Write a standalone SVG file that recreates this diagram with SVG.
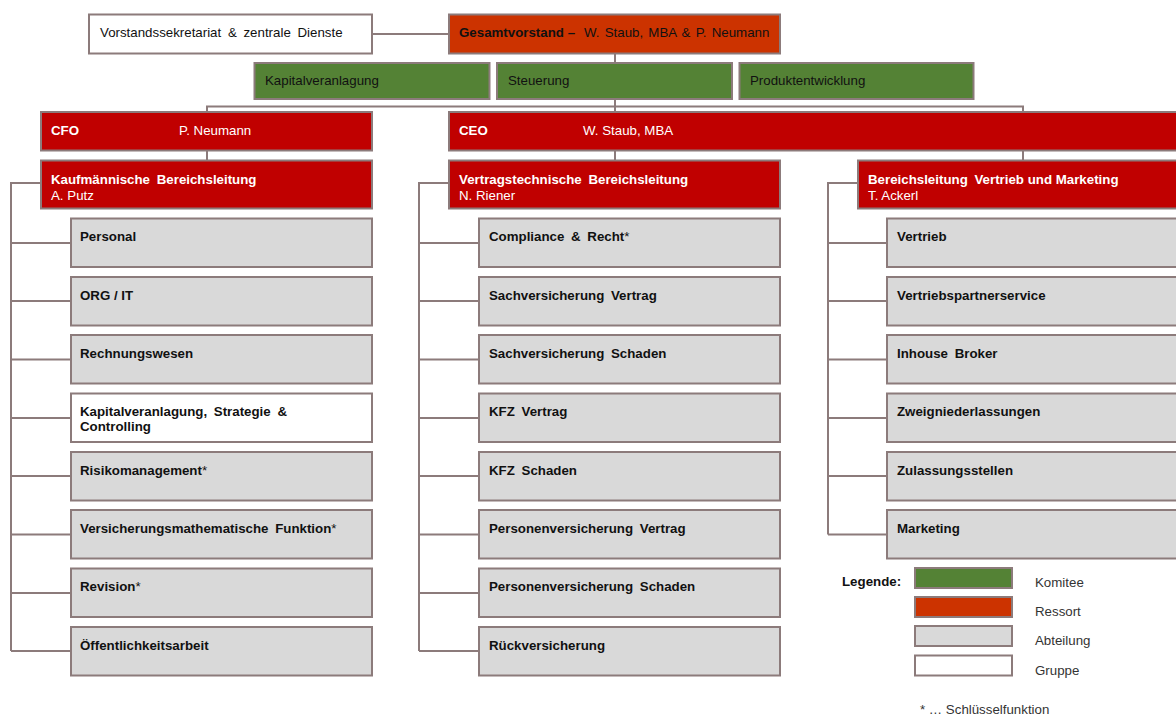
<svg xmlns="http://www.w3.org/2000/svg" width="1176" height="716" viewBox="0 0 1176 716">
<style>
text{font-family:"Liberation Sans",Arial,sans-serif;font-size:13.3px}
.b{font-weight:bold;word-spacing:3px}
.ws{word-spacing:3px}
.n0{word-spacing:0}
.box{stroke:#8c7b7b;stroke-width:2}
.ressort{fill:#cc3300}
.red{fill:#c00000}
.green{fill:#548235}
.gray{fill:#d9d9d9}
.white{fill:#ffffff}
.tw{fill:#ffffff}
.tk{fill:#111111}
.tl{fill:#333333}
.conn{fill:none;stroke:#8c7b7b;stroke-width:2}
</style>
<rect width="1176" height="716" fill="#ffffff"/>
<g id="connectors" class="conn">
<path d="M372,34H449"/>
<path d="M615,54V106.5"/>
<path d="M207,112V106.5H1023V112"/>
<path d="M615,106.5V112"/>
<path d="M207,151V160"/>
<path d="M615,151V160"/>
<path d="M1023,151V160"/>
<path d="M40,183H11V651"/>
<path d="M11,243H71M11,301H71M11,359.5H71M11,418H71M11,476H71M11,534.5H71M11,593H71M11,651H71"/>
<path d="M448,183H419V651"/>
<path d="M419,243H479M419,301H479M419,359.5H479M419,418H479M419,476H479M419,534.5H479M419,593H479M419,651H479"/>
<path d="M857,183H828V534.5"/>
<path d="M828,243H887M828,301H887M828,359.5H887M828,418H887M828,476H887M828,534.5H887"/>
</g>
<g id="vorstandssekretariat"><rect class="box white" x="89" y="14.5" width="283" height="39"/><text class="tk ws" x="100" y="37">Vorstandssekretariat &amp; zentrale Dienste</text></g>
<g id="gesamtvorstand"><rect class="box ressort" x="449" y="14.5" width="331" height="39"/><text class="tk" x="459" y="37"><tspan class="b n0">Gesamtvorstand –</tspan><tspan x="584" style="word-spacing:1.5px">W. Staub, MBA &amp; P. Neumann</tspan></text></g>
<g id="kapitalveranlagung-komitee"><rect class="box green" x="254.5" y="63" width="235" height="36"/><text class="tk" x="265" y="85">Kapitalveranlagung</text></g>
<g id="steuerung"><rect class="box green" x="497" y="63" width="235" height="36"/><text class="tk" x="508" y="85">Steuerung</text></g>
<g id="produktentwicklung"><rect class="box green" x="739.5" y="63" width="234" height="36"/><text class="tk" x="750" y="85">Produktentwicklung</text></g>
<g id="cfo"><rect class="box red" x="41" y="112" width="331" height="38.5"/><text class="tw b" x="51" y="135">CFO</text><text class="tw" x="179" y="135">P. Neumann</text></g>
<g id="ceo"><rect class="box red" x="449" y="112" width="740" height="38.5"/><text class="tw b" x="459" y="135">CEO</text><text class="tw" x="583" y="135">W. Staub, MBA</text></g>
<g id="kaufmaennische-bereichsleitung"><rect class="box red" x="41" y="160.5" width="331" height="48"/><text class="tw b" x="51" y="183.5">Kaufmännische Bereichsleitung</text><text class="tw" x="51" y="200">A. Putz</text></g>
<g id="vertragstechnische-bereichsleitung"><rect class="box red" x="449" y="160.5" width="331" height="48"/><text class="tw b" x="459" y="183.5">Vertragstechnische Bereichsleitung</text><text class="tw" x="459" y="200">N. Riener</text></g>
<g id="bereichsleitung-vertrieb-marketing"><rect class="box red" x="858" y="160.5" width="331" height="48"/><text class="tw b n0" x="868" y="183.5">Bereichsleitung <tspan dx="3">Vertrieb und Marketing</tspan></text><text class="tw" x="868" y="200">T. Ackerl</text></g>
<g id="personal"><rect class="box gray" x="71" y="218.5" width="301" height="48.5"/><text class="tk b" x="80" y="241">Personal</text></g>
<g id="org-it"><rect class="box gray" x="71" y="277" width="301" height="48.5"/><text class="tk b n0" x="80" y="299.5">ORG / IT</text></g>
<g id="rechnungswesen"><rect class="box gray" x="71" y="335" width="301" height="48.5"/><text class="tk b" x="80" y="357.5">Rechnungswesen</text></g>
<g id="kapitalveranlagung-strategie-controlling"><rect class="box white" x="71" y="393.5" width="301" height="48.5"/><text class="tk b" x="80" y="415.5">Kapitalveranlagung, Strategie &amp;</text><text class="tk b" x="80" y="431">Controlling</text></g>
<g id="risikomanagement"><rect class="box gray" x="71" y="452" width="301" height="48.5"/><text class="tk b" x="80" y="474.5">Risikomanagement<tspan font-weight="normal">*</tspan></text></g>
<g id="versicherungsmathematische-funktion"><rect class="box gray" x="71" y="510" width="301" height="48.5"/><text class="tk b" x="80" y="532.5">Versicherungsmathematische Funktion<tspan font-weight="normal">*</tspan></text></g>
<g id="revision"><rect class="box gray" x="71" y="568.5" width="301" height="48.5"/><text class="tk b" x="80" y="591">Revision<tspan font-weight="normal">*</tspan></text></g>
<g id="oeffentlichkeitsarbeit"><rect class="box gray" x="71" y="627" width="301" height="48.5"/><text class="tk b" x="80" y="649.5">Öffentlichkeitsarbeit</text></g>
<g id="compliance-recht"><rect class="box gray" x="479" y="218.5" width="301" height="48.5"/><text class="tk b" x="489" y="241">Compliance &amp; Recht<tspan font-weight="normal">*</tspan></text></g>
<g id="sachversicherung-vertrag"><rect class="box gray" x="479" y="277" width="301" height="48.5"/><text class="tk b" x="489" y="299.5">Sachversicherung Vertrag</text></g>
<g id="sachversicherung-schaden"><rect class="box gray" x="479" y="335" width="301" height="48.5"/><text class="tk b" x="489" y="357.5">Sachversicherung Schaden</text></g>
<g id="kfz-vertrag"><rect class="box gray" x="479" y="393.5" width="301" height="48.5"/><text class="tk b" x="489" y="416">KFZ Vertrag</text></g>
<g id="kfz-schaden"><rect class="box gray" x="479" y="452" width="301" height="48.5"/><text class="tk b" x="489" y="474.5">KFZ Schaden</text></g>
<g id="personenversicherung-vertrag"><rect class="box gray" x="479" y="510" width="301" height="48.5"/><text class="tk b" x="489" y="532.5">Personenversicherung Vertrag</text></g>
<g id="personenversicherung-schaden"><rect class="box gray" x="479" y="568.5" width="301" height="48.5"/><text class="tk b" x="489" y="591">Personenversicherung Schaden</text></g>
<g id="rueckversicherung"><rect class="box gray" x="479" y="627" width="301" height="48.5"/><text class="tk b" x="489" y="649.5">Rückversicherung</text></g>
<g id="vertrieb"><rect class="box gray" x="887" y="218.5" width="302" height="48.5"/><text class="tk b" x="897" y="241">Vertrieb</text></g>
<g id="vertriebspartnerservice"><rect class="box gray" x="887" y="277" width="302" height="48.5"/><text class="tk b" x="897" y="299.5">Vertriebspartnerservice</text></g>
<g id="inhouse-broker"><rect class="box gray" x="887" y="335" width="302" height="48.5"/><text class="tk b" x="897" y="357.5">Inhouse Broker</text></g>
<g id="zweigniederlassungen"><rect class="box gray" x="887" y="393.5" width="302" height="48.5"/><text class="tk b" x="897" y="416">Zweigniederlassungen</text></g>
<g id="zulassungsstellen"><rect class="box gray" x="887" y="452" width="302" height="48.5"/><text class="tk b" x="897" y="474.5">Zulassungsstellen</text></g>
<g id="marketing"><rect class="box gray" x="887" y="510" width="302" height="48.5"/><text class="tk b" x="897" y="532.5">Marketing</text></g>
<g id="legende">
<text class="tk b" x="842" y="586">Legende:</text>
<rect class="box green" x="915" y="568" width="97" height="20"/>
<rect class="box ressort" x="915" y="597" width="97" height="20"/>
<rect class="box gray" x="915" y="626" width="97" height="20"/>
<rect class="box white" x="915" y="655.5" width="97" height="20"/>
<text class="tl" x="1035" y="587">Komitee</text>
<text class="tl" x="1035" y="616">Ressort</text>
<text class="tl" x="1035" y="645">Abteilung</text>
<text class="tl" x="1035" y="674.5">Gruppe</text>
<text class="tl" x="920" y="714">* … Schlüsselfunktion</text>
</g>
</svg>
